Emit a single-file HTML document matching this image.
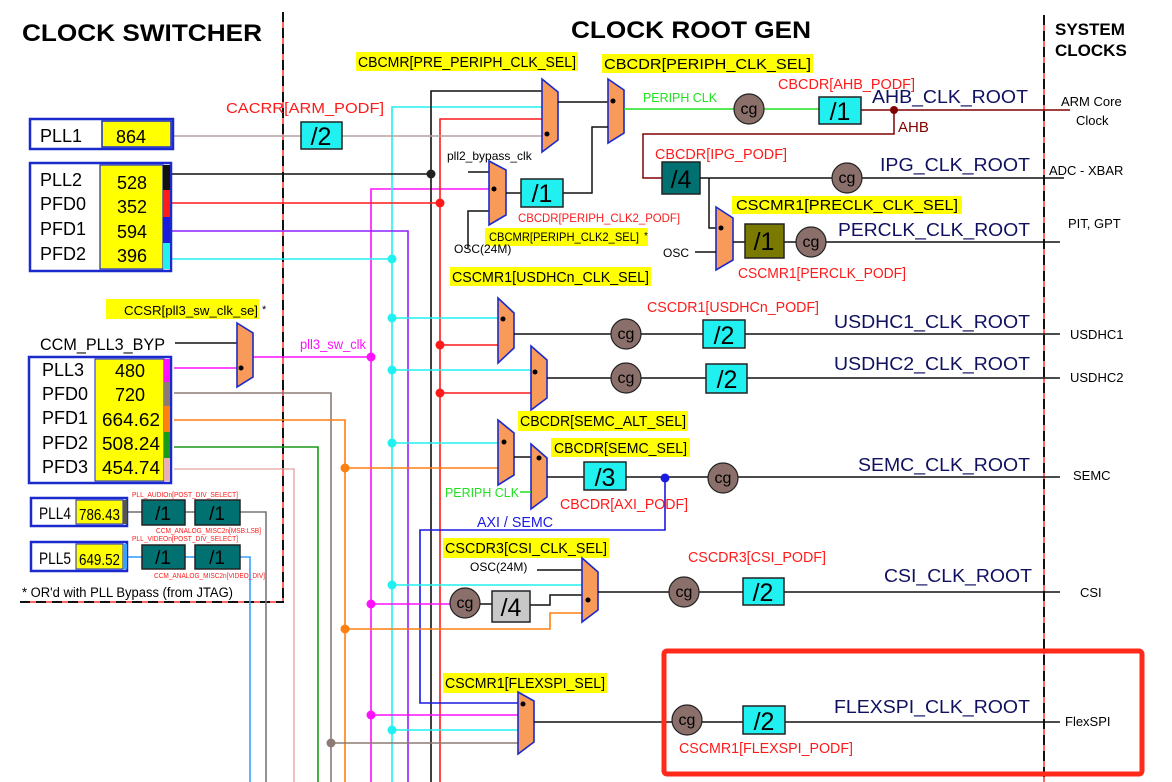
<!DOCTYPE html>
<html><head><meta charset="utf-8"><style>
html,body{margin:0;padding:0;background:#fff;}
svg{display:block;font-family:"Liberation Sans",sans-serif;}
.m{fill:#f79a5a;stroke:#1a2acc;stroke-width:1.6;}
.cg{fill:#8b6f6a;stroke:#222;stroke-width:1.2;}
.cgt{font-size:16px;fill:#000;text-anchor:middle;}
.dv{font-size:25px;fill:#000;text-anchor:middle;}
.yl{fill:#ffff00;}
.yt{font-size:15px;fill:#000;}
.rt{fill:#ff1a1a;font-size:15px;}
.nv{fill:#101060;font-size:18px;text-anchor:end;}
.pl{font-size:18px;fill:#000;}
</style></head><body>
<svg width="1172" height="782" viewBox="0 0 1172 782" xmlns="http://www.w3.org/2000/svg">
<!-- Titles -->
<text x="22" y="41" font-size="24" font-weight="bold" textLength="240" lengthAdjust="spacingAndGlyphs">CLOCK SWITCHER</text>
<text x="571" y="38" font-size="24" font-weight="bold" textLength="240" lengthAdjust="spacingAndGlyphs">CLOCK ROOT GEN</text>
<text x="1055" y="35" font-size="17" font-weight="bold">SYSTEM</text>
<text x="1055" y="56" font-size="17" font-weight="bold">CLOCKS</text>

<!-- dividers -->
<line x1="283" y1="12" x2="283" y2="602" stroke="#ff3030" stroke-width="1.5"/>
<line x1="283" y1="12" x2="283" y2="602" stroke="#111" stroke-width="2" stroke-dasharray="10,6"/>
<line x1="20" y1="602" x2="284" y2="602" stroke="#ff3030" stroke-width="1.5"/>
<line x1="20" y1="602" x2="284" y2="602" stroke="#111" stroke-width="2" stroke-dasharray="10,6"/>
<line x1="1044" y1="15" x2="1044" y2="782" stroke="#ff3030" stroke-width="1.5"/>
<line x1="1044" y1="15" x2="1044" y2="782" stroke="#111" stroke-width="2" stroke-dasharray="10,6"/>

<!-- vertical buses -->
<polyline points="174,393 331,393 331,782" fill="none" stroke="#8c7b75" stroke-width="1.6"/>
<polyline points="174,420 345,420 345,782" fill="none" stroke="#ff7f10" stroke-width="1.6"/>
<polyline points="174,447 318,447 318,782" fill="none" stroke="#1a9a1a" stroke-width="1.6"/>
<polyline points="174,469 294,469 294,782" fill="none" stroke="#e8b0b0" stroke-width="1.6"/>
<polyline points="240,512 266,512 266,782" fill="none" stroke="#777" stroke-width="1.6"/>
<polyline points="127,557 142,557" fill="none" stroke="#3aa0ff" stroke-width="1.6"/>
<polyline points="240,557 250,557 250,782" fill="none" stroke="#3aa0ff" stroke-width="1.6"/>
<line x1="127" y1="512" x2="142" y2="512" stroke="#777" stroke-width="1.6"/>
<line x1="185" y1="512" x2="195" y2="512" stroke="#777" stroke-width="1.6"/>
<line x1="185" y1="557" x2="195" y2="557" stroke="#3aa0ff" stroke-width="1.6"/>
<polyline points="489,189 371,189 371,782" fill="none" stroke="#ff10ff" stroke-width="1.6"/>
<polyline points="542,107 392,107 392,782" fill="none" stroke="#20f0f0" stroke-width="1.6"/>
<polyline points="172,231 408,231 408,782" fill="none" stroke="#9020ff" stroke-width="1.6"/>
<polyline points="542,91 431,91 431,782" fill="none" stroke="#111" stroke-width="1.6"/>
<polyline points="542,119 440,119 440,782" fill="none" stroke="#ff1a1a" stroke-width="1.6"/>
<line x1="172" y1="174" x2="431" y2="174" stroke="#111" stroke-width="1.6"/>
<line x1="172" y1="203" x2="440" y2="203" stroke="#ff1a1a" stroke-width="1.6"/>
<line x1="172" y1="259" x2="392" y2="259" stroke="#20f0f0" stroke-width="1.6"/>
<line x1="174" y1="136" x2="542" y2="136" stroke="#b0a0a0" stroke-width="1.6"/>
<line x1="174" y1="368" x2="237" y2="368" stroke="#ff10ff" stroke-width="1.6"/>
<line x1="175" y1="343" x2="237" y2="343" stroke="#111" stroke-width="1.5"/>
<line x1="253" y1="357" x2="371" y2="357" stroke="#ff10ff" stroke-width="1.6"/>

<!-- CLOCK SWITCHER boxes -->
<rect x="30" y="119" width="143" height="30" fill="#fff" stroke="#1a2acc" stroke-width="2.5"/>
<rect x="102" y="121" width="69" height="26" fill="#ffff00" stroke="#1a2acc" stroke-width="1.5"/>
<text x="40" y="142" class="pl" font-size="19">PLL1</text><text x="116" y="143" class="pl" font-size="19">864</text>

<rect x="30" y="163" width="141" height="108" fill="#fff" stroke="#1a2acc" stroke-width="2.5"/>
<rect x="100" y="165" width="63" height="104" fill="#ffff00" stroke="#1a2acc" stroke-width="1.2"/>
<rect x="163" y="165" width="7" height="25" fill="#111"/><rect x="163" y="190" width="7" height="27" fill="#ff1a1a"/>
<rect x="163" y="217" width="7" height="26" fill="#1a1ae0"/><rect x="163" y="243" width="7" height="26" fill="#20f0f0"/>
<text x="40" y="186" class="pl" font-size="19">PLL2</text><text x="40" y="210" class="pl" font-size="19">PFD0</text><text x="40" y="235" class="pl" font-size="19">PFD1</text><text x="40" y="260" class="pl" font-size="19">PFD2</text>
<text x="117" y="189" class="pl" font-size="19">528</text><text x="117" y="213" class="pl" font-size="19">352</text><text x="117" y="238" class="pl" font-size="19">594</text><text x="117" y="262" class="pl" font-size="19">396</text>

<rect x="106" y="299" width="153" height="20" class="yl"/>
<text x="124" y="315" font-size="13" textLength="134" lengthAdjust="spacingAndGlyphs">CCSR[pll3_sw_clk_se]</text>
<text x="262" y="313" font-size="11">*</text>
<text x="40" y="350" font-size="17" textLength="125" lengthAdjust="spacingAndGlyphs">CCM_PLL3_BYP</text>
<polygon class="m" points="237,323 253,333 253,377 237,387"/><circle cx="241" cy="368" r="2.5"/>
<text x="300" y="349" font-size="14" fill="#ff10ff" textLength="66" lengthAdjust="spacingAndGlyphs">pll3_sw_clk</text>

<rect x="29" y="357" width="142" height="126" fill="#fff" stroke="#1a2acc" stroke-width="2.5"/>
<rect x="95" y="359" width="69" height="122" fill="#ffff00" stroke="#1a2acc" stroke-width="1"/>
<rect x="164" y="359" width="6" height="23" fill="#ff10ff"/><rect x="164" y="382" width="6" height="24" fill="#8c7b75"/>
<rect x="164" y="406" width="6" height="26" fill="#ff7f10"/><rect x="164" y="432" width="6" height="26" fill="#1a9a1a"/>
<rect x="164" y="458" width="6" height="23" fill="#e8b0b0"/>
<text x="42" y="376" class="pl" font-size="19">PLL3</text><text x="42" y="400" class="pl" font-size="19">PFD0</text><text x="42" y="424" class="pl" font-size="19">PFD1</text><text x="42" y="449" class="pl" font-size="19">PFD2</text><text x="42" y="473" class="pl" font-size="19">PFD3</text>
<text x="115" y="377" class="pl" font-size="19">480</text>
<text x="115" y="401" class="pl" font-size="19">720</text>
<text x="102" y="426" class="pl" font-size="19" textLength="58" lengthAdjust="spacingAndGlyphs">664.62</text>
<text x="102" y="450" class="pl" font-size="19" textLength="58" lengthAdjust="spacingAndGlyphs">508.24</text>
<text x="102" y="474" class="pl" font-size="19" textLength="58" lengthAdjust="spacingAndGlyphs">454.74</text>

<rect x="31" y="498" width="96" height="28" fill="#fff" stroke="#1a2acc" stroke-width="2.5"/>
<rect x="76" y="500" width="47" height="24" fill="#ffff00" stroke="#1a2acc" stroke-width="1"/>
<rect x="123" y="500" width="4" height="24" fill="#555"/>
<text x="39" y="519" font-size="17" textLength="32" lengthAdjust="spacingAndGlyphs">PLL4</text>
<text x="79" y="520" font-size="16" textLength="41" lengthAdjust="spacingAndGlyphs">786.43</text>
<rect x="31" y="542" width="96" height="29" fill="#fff" stroke="#1a2acc" stroke-width="2.5"/>
<rect x="76" y="544" width="47" height="25" fill="#ffff00" stroke="#1a2acc" stroke-width="1"/>
<rect x="123" y="544" width="4" height="25" fill="#3aa0ff"/>
<text x="39" y="564" font-size="17" textLength="32" lengthAdjust="spacingAndGlyphs">PLL5</text>
<text x="79" y="565" font-size="16" textLength="41" lengthAdjust="spacingAndGlyphs">649.52</text>
<g fill="#007070" stroke="#222" stroke-width="1.5">
<rect x="142" y="500" width="43" height="25"/><rect x="195" y="500" width="45" height="25"/>
<rect x="142" y="545" width="43" height="24"/><rect x="195" y="545" width="45" height="24"/>
</g>
<g font-size="19" fill="#000" text-anchor="middle">
<text x="163" y="520">/1</text><text x="217" y="520">/1</text><text x="163" y="564">/1</text><text x="217" y="564">/1</text>
</g>
<g fill="#ff1a1a" font-size="7">
<text x="132" y="497" textLength="106" lengthAdjust="spacingAndGlyphs">PLL_AUDIOn[POST_DIV_SELECT]</text>
<text x="156" y="533" textLength="105" lengthAdjust="spacingAndGlyphs">CCM_ANALOG_MISC2n[MSB:LSB]</text>
<text x="132" y="541" textLength="106" lengthAdjust="spacingAndGlyphs">PLL_VIDEOn[POST_DIV_SELECT]</text>
<text x="154" y="578" textLength="111" lengthAdjust="spacingAndGlyphs">CCM_ANALOG_MISC2n[VIDEO_DIV]</text>
</g>
<text x="22" y="597" font-size="13.5" textLength="211" lengthAdjust="spacingAndGlyphs">* OR'd with PLL Bypass (from JTAG)</text>

<!-- CACRR -->
<text x="226" y="113" class="rt" font-size="16" textLength="158" lengthAdjust="spacingAndGlyphs">CACRR[ARM_PODF]</text>
<rect x="301" y="122" width="41" height="27" fill="#20f0f0" stroke="#222" stroke-width="1.5"/>
<text x="321" y="145" class="dv">/2</text>

<!-- Top labels -->
<rect x="356" y="52" width="222" height="19" class="yl"/>
<text x="358" y="67" class="yt" textLength="218" lengthAdjust="spacingAndGlyphs">CBCMR[PRE_PERIPH_CLK_SEL]</text>
<rect x="602" y="54" width="211" height="19" class="yl"/>
<text x="604" y="69" class="yt" textLength="207" lengthAdjust="spacingAndGlyphs">CBCDR[PERIPH_CLK_SEL]</text>

<!-- pre periph & periph muxes -->
<polygon class="m" points="542,79 558,92 558,140 542,152"/><circle cx="547" cy="134" r="2.5"/>
<line x1="558" y1="102" x2="608" y2="102" stroke="#111" stroke-width="1.5"/>
<polygon class="m" points="608,79 624,90 624,133 608,143"/><circle cx="613" cy="101" r="2.5"/>
<polyline points="563,193 592,193 592,127 608,127" fill="none" stroke="#111" stroke-width="1.5"/>
<line x1="624" y1="109" x2="819" y2="109" stroke="#20e020" stroke-width="1.5"/>
<text x="643" y="102" font-size="13" fill="#20e020" textLength="74" lengthAdjust="spacingAndGlyphs">PERIPH CLK</text>
<ellipse cx="749" cy="109" rx="15" ry="15" class="cg"/><text x="749" y="114" class="cgt">cg</text>
<text x="778" y="89" class="rt" textLength="137" lengthAdjust="spacingAndGlyphs">CBCDR[AHB_PODF]</text>
<rect x="819" y="97" width="42" height="27" fill="#20f0f0" stroke="#222" stroke-width="1.5"/>
<text x="840" y="120" class="dv">/1</text>
<line x1="861" y1="110" x2="1070" y2="110" stroke="#800000" stroke-width="1.5"/>
<circle cx="894" cy="110" r="4" fill="#800000"/>
<polyline points="894,110 894,134 643,134 643,178 662,178" fill="none" stroke="#800000" stroke-width="1.5"/>
<text x="898" y="132" fill="#800000" font-size="15">AHB</text>
<text x="1028" y="103" class="nv" textLength="156" lengthAdjust="spacingAndGlyphs">AHB_CLK_ROOT</text>
<text x="1061" y="106" font-size="13">ARM Core</text><text x="1076" y="125" font-size="13">Clock</text>

<!-- IPG -->
<text x="655" y="159" class="rt" textLength="132" lengthAdjust="spacingAndGlyphs">CBCDR[IPG_PODF]</text>
<rect x="662" y="162" width="38" height="32" fill="#007070" stroke="#222" stroke-width="1.5"/>
<text x="681" y="188" class="dv" font-size="26">/4</text>
<line x1="700" y1="178" x2="1064" y2="178" stroke="#111" stroke-width="1.5"/>
<ellipse cx="847" cy="178" rx="15" ry="15" class="cg"/><text x="847" y="183" class="cgt">cg</text>
<text x="1030" y="171" class="nv" textLength="150" lengthAdjust="spacingAndGlyphs">IPG_CLK_ROOT</text>
<text x="1049" y="175" font-size="13">ADC - XBAR</text>

<!-- PERCLK -->
<polyline points="709,178 709,228 716,228" fill="none" stroke="#111" stroke-width="1.5"/>
<rect x="732" y="196" width="230" height="18" class="yl"/>
<text x="736" y="210" class="yt" textLength="222" lengthAdjust="spacingAndGlyphs">CSCMR1[PRECLK_CLK_SEL]</text>
<polygon class="m" points="716,207 733,218 733,260 716,270"/><circle cx="721" cy="228" r="2.5"/>
<text x="663" y="257" font-size="12">OSC</text>
<line x1="695" y1="252" x2="716" y2="252" stroke="#111" stroke-width="1.5"/>
<line x1="733" y1="242" x2="1060" y2="242" stroke="#111" stroke-width="1.5"/>
<rect x="745" y="224" width="39" height="34" fill="#7a7a00" stroke="#222" stroke-width="1.5"/>
<text x="764" y="250" class="dv" font-size="26">/1</text>
<ellipse cx="811" cy="242" rx="15" ry="15" class="cg"/><text x="811" y="247" class="cgt">cg</text>
<text x="738" y="278" class="rt" textLength="168" lengthAdjust="spacingAndGlyphs">CSCMR1[PERCLK_PODF]</text>
<text x="1030" y="236" class="nv" textLength="192" lengthAdjust="spacingAndGlyphs">PERCLK_CLK_ROOT</text>
<text x="1068" y="228" font-size="13">PIT, GPT</text>

<!-- pll2 bypass mux -->
<text x="447" y="160" font-size="12">pll2_bypass_clk</text>
<line x1="468" y1="172" x2="489" y2="172" stroke="#111" stroke-width="1.5"/>
<polyline points="468,248 468,211 489,211" fill="none" stroke="#111" stroke-width="1.5"/>
<polygon class="m" points="489,161 506,170 506,215 489,225"/><circle cx="494" cy="189" r="2.5"/>
<line x1="506" y1="193" x2="521" y2="193" stroke="#111" stroke-width="1.5"/>
<rect x="521" y="179" width="42" height="28" fill="#20f0f0" stroke="#222" stroke-width="1.5"/>
<text x="542" y="202" class="dv">/1</text>
<text x="518" y="222" fill="#ff1a1a" font-size="12" textLength="162" lengthAdjust="spacingAndGlyphs">CBCDR[PERIPH_CLK2_PODF]</text>
<rect x="485" y="228" width="163" height="18" class="yl"/>
<text x="489" y="241" font-size="12" textLength="150" lengthAdjust="spacingAndGlyphs">CBCMR[PERIPH_CLK2_SEL]</text>
<text x="644" y="239" font-size="10">*</text>
<text x="454" y="253" font-size="12">OSC(24M)</text>
<rect x="450" y="267" width="201" height="19" class="yl"/>
<text x="452" y="282" class="yt" textLength="197" lengthAdjust="spacingAndGlyphs">CSCMR1[USDHCn_CLK_SEL]</text>

<!-- USDHC1/2 -->
<line x1="392" y1="318" x2="498" y2="318" stroke="#20f0f0" stroke-width="1.6"/>
<line x1="440" y1="345" x2="498" y2="345" stroke="#ff1a1a" stroke-width="1.6"/>
<line x1="392" y1="370" x2="531" y2="370" stroke="#20f0f0" stroke-width="1.6"/>
<line x1="440" y1="393" x2="531" y2="393" stroke="#ff1a1a" stroke-width="1.6"/>
<polygon class="m" points="498,298 514,313 514,348 498,363"/><circle cx="503" cy="319" r="2.5"/>
<polygon class="m" points="531,346 547,360 547,398 531,410"/><circle cx="535" cy="372" r="2.5"/>
<line x1="514" y1="334" x2="1060" y2="334" stroke="#111" stroke-width="1.5"/>
<line x1="547" y1="378" x2="1060" y2="378" stroke="#111" stroke-width="1.5"/>
<ellipse cx="626" cy="334" rx="15" ry="15" class="cg"/><text x="626" y="339" class="cgt">cg</text>
<ellipse cx="626" cy="378" rx="15" ry="15" class="cg"/><text x="626" y="383" class="cgt">cg</text>
<rect x="703" y="320" width="42" height="28" fill="#20f0f0" stroke="#222" stroke-width="1.5"/><text x="724" y="344" class="dv">/2</text>
<rect x="706" y="364" width="41" height="29" fill="#20f0f0" stroke="#222" stroke-width="1.5"/><text x="727" y="388" class="dv">/2</text>
<text x="647" y="312" class="rt" textLength="172" lengthAdjust="spacingAndGlyphs">CSCDR1[USDHCn_PODF]</text>
<text x="1030" y="328" class="nv" textLength="196" lengthAdjust="spacingAndGlyphs">USDHC1_CLK_ROOT</text>
<text x="1030" y="370" class="nv" textLength="196" lengthAdjust="spacingAndGlyphs">USDHC2_CLK_ROOT</text>
<text x="1070" y="339" font-size="13">USDHC1</text>
<text x="1070" y="382" font-size="13">USDHC2</text>

<!-- SEMC -->
<rect x="518" y="411" width="170" height="20" class="yl"/>
<text x="520" y="426" class="yt" textLength="166" lengthAdjust="spacingAndGlyphs">CBCDR[SEMC_ALT_SEL]</text>
<rect x="551" y="438" width="139" height="19" class="yl"/>
<text x="554" y="453" class="yt" textLength="133" lengthAdjust="spacingAndGlyphs">CBCDR[SEMC_SEL]</text>
<line x1="392" y1="443" x2="498" y2="443" stroke="#20f0f0" stroke-width="1.6"/>
<line x1="345" y1="468" x2="498" y2="468" stroke="#ff7f10" stroke-width="1.6"/>
<polygon class="m" points="498,420 514,433 514,475 498,485"/><circle cx="504" cy="442" r="2.5"/>
<line x1="514" y1="457" x2="531" y2="457" stroke="#111" stroke-width="1.5"/>
<polygon class="m" points="531,444 547,458 547,497 531,509"/><circle cx="539" cy="458" r="2.5"/>
<line x1="520" y1="492" x2="531" y2="492" stroke="#20e020" stroke-width="1.5"/>
<text x="445" y="497" font-size="13" fill="#20e020" textLength="74" lengthAdjust="spacingAndGlyphs">PERIPH CLK</text>
<line x1="547" y1="477" x2="1060" y2="477" stroke="#111" stroke-width="1.5"/>
<rect x="584" y="462" width="42" height="28" fill="#20f0f0" stroke="#222" stroke-width="1.5"/><text x="605" y="486" class="dv">/3</text>
<polyline points="665,478 665,530 420,530 420,703 518,703" fill="none" stroke="#1a1ae0" stroke-width="1.6"/>
<circle cx="665" cy="478" r="4.5" fill="#1a1ae0"/>
<ellipse cx="723" cy="478" rx="15" ry="15" class="cg"/><text x="723" y="483" class="cgt">cg</text>
<text x="560" y="509" class="rt" textLength="128" lengthAdjust="spacingAndGlyphs">CBCDR[AXI_PODF]</text>
<text x="477" y="527" font-size="15" fill="#1a1ae0" textLength="76" lengthAdjust="spacingAndGlyphs">AXI / SEMC</text>
<text x="1030" y="471" class="nv" textLength="172" lengthAdjust="spacingAndGlyphs">SEMC_CLK_ROOT</text>
<text x="1073" y="480" font-size="13">SEMC</text>

<!-- CSI -->
<rect x="443" y="538" width="166" height="20" class="yl"/>
<text x="445" y="553" class="yt" textLength="162" lengthAdjust="spacingAndGlyphs">CSCDR3[CSI_CLK_SEL]</text>
<text x="470" y="571" font-size="12">OSC(24M)</text>
<line x1="537" y1="570" x2="582" y2="570" stroke="#111" stroke-width="1.5"/>
<line x1="392" y1="585" x2="582" y2="585" stroke="#20f0f0" stroke-width="1.6"/>
<line x1="371" y1="604" x2="450" y2="604" stroke="#ff10ff" stroke-width="1.6"/>
<polyline points="530,605 550,605 550,595 582,595" fill="none" stroke="#111" stroke-width="1.5"/>
<polyline points="345,629 550,629 550,613 582,613" fill="none" stroke="#ff7f10" stroke-width="1.6"/>
<line x1="480" y1="604" x2="492" y2="604" stroke="#111" stroke-width="1.5"/>
<ellipse cx="465" cy="603" rx="15" ry="15" class="cg"/><text x="465" y="608" class="cgt">cg</text>
<rect x="492" y="591" width="38" height="31" fill="#c8c8c8" stroke="#222" stroke-width="1.5"/><text x="511" y="616" class="dv" font-size="26">/4</text>
<polygon class="m" points="582,558 598,572 598,610 582,622"/><circle cx="588" cy="600" r="2.5"/>
<line x1="598" y1="592" x2="1060" y2="592" stroke="#111" stroke-width="1.5"/>
<ellipse cx="684" cy="592" rx="15" ry="15" class="cg"/><text x="684" y="597" class="cgt">cg</text>
<rect x="743" y="578" width="41" height="27" fill="#20f0f0" stroke="#222" stroke-width="1.5"/><text x="763" y="601" class="dv">/2</text>
<text x="688" y="562" class="rt" textLength="138" lengthAdjust="spacingAndGlyphs">CSCDR3[CSI_PODF]</text>
<text x="1032" y="582" class="nv" textLength="148" lengthAdjust="spacingAndGlyphs">CSI_CLK_ROOT</text>
<text x="1080" y="597" font-size="13">CSI</text>

<!-- FLEXSPI -->
<rect x="443" y="673" width="164" height="20" class="yl"/>
<text x="445" y="688" class="yt" textLength="160" lengthAdjust="spacingAndGlyphs">CSCMR1[FLEXSPI_SEL]</text>
<line x1="371" y1="715" x2="518" y2="715" stroke="#ff10ff" stroke-width="1.6"/>
<line x1="392" y1="730" x2="518" y2="730" stroke="#20f0f0" stroke-width="1.6"/>
<line x1="331" y1="743" x2="518" y2="743" stroke="#8c7b75" stroke-width="1.6"/>
<polygon class="m" points="518,692 534,701 534,742 518,754"/><circle cx="523" cy="704" r="2.5"/>
<line x1="534" y1="722" x2="1060" y2="722" stroke="#111" stroke-width="1.5"/>
<ellipse cx="687" cy="720" rx="15" ry="15" class="cg"/><text x="687" y="725" class="cgt">cg</text>
<rect x="743" y="706" width="42" height="28" fill="#20f0f0" stroke="#222" stroke-width="1.5"/><text x="764" y="730" class="dv">/2</text>
<text x="679" y="753" class="rt" textLength="174" lengthAdjust="spacingAndGlyphs">CSCMR1[FLEXSPI_PODF]</text>
<text x="1030" y="713" class="nv" textLength="196" lengthAdjust="spacingAndGlyphs">FLEXSPI_CLK_ROOT</text>
<text x="1065" y="726" font-size="13">FlexSPI</text>
<rect x="664" y="651" width="478" height="123" rx="3" fill="none" stroke="#ff2a1a" stroke-width="5"/>

<!-- dots -->
<g>
<circle cx="431" cy="174" r="4.5" fill="#222"/>
<circle cx="440" cy="203" r="4.5" fill="#ff1a1a"/><circle cx="440" cy="345" r="4.5" fill="#ff1a1a"/><circle cx="440" cy="393" r="4.5" fill="#ff1a1a"/>
<circle cx="392" cy="259" r="4.5" fill="#20f0f0"/><circle cx="392" cy="318" r="4.5" fill="#20f0f0"/><circle cx="392" cy="370" r="4.5" fill="#20f0f0"/><circle cx="392" cy="443" r="4.5" fill="#20f0f0"/><circle cx="392" cy="585" r="4.5" fill="#20f0f0"/><circle cx="392" cy="730" r="4.5" fill="#20f0f0"/>
<circle cx="371" cy="357" r="4.5" fill="#ff10ff"/><circle cx="371" cy="604" r="4.5" fill="#ff10ff"/><circle cx="371" cy="715" r="4.5" fill="#ff10ff"/>
<circle cx="345" cy="468" r="4.5" fill="#ff7f10"/><circle cx="345" cy="629" r="4.5" fill="#ff7f10"/>
<circle cx="331" cy="743" r="4.5" fill="#8c7b75"/>
</g>
</svg>
</body></html>
